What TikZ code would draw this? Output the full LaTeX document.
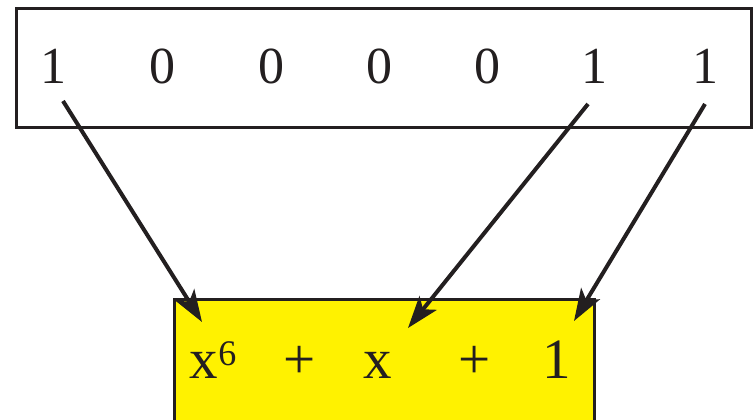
\documentclass[tikz,border=0pt]{standalone}
\usepackage{fontspec}
\setmainfont{Liberation Serif}
\usetikzlibrary{arrows.meta}
\definecolor{inkc}{HTML}{231F20}
\definecolor{yel}{HTML}{FFF200}
\begin{document}
\begin{tikzpicture}[x=1pt,y=-1pt,
  digit/.style={anchor=base,inner sep=0pt,font=\fontsize{52}{52}\selectfont,text=inkc},
  term/.style={anchor=base,inner sep=0pt,font=\fontsize{57}{57}\selectfont,text=inkc},
  boxline/.style={draw=inkc,line width=3pt},
  arr/.style={draw=inkc,line width=4pt,-{Stealth[length=32pt,width=22pt,inset=8pt]}}]
\useasboundingbox (0,0) rectangle (755,420);
\begin{scope}
\clip (0,0) rectangle (755,420);
\draw[boxline,fill=white] (16,9) rectangle (751,127);
\draw[boxline,fill=yel] (174,299) rectangle (594,440);
\end{scope}
\node[digit] (d1) at (53,84) {1};
\node[digit] (d2) at (162,84) {0};
\node[digit] (d3) at (271,84) {0};
\node[digit] (d4) at (379,84) {0};
\node[digit] (d5) at (487,84) {0};
\node[digit] (d6) at (594,84) {1};
\node[digit] (d7) at (705,84) {1};
\node[term] (t1) at (213,378) {x\raisebox{13pt}{\fontsize{36}{36}\selectfont 6}};
\node[term] (t2) at (300,378) {+};
\node[term] (t3) at (378,378) {x};
\node[term] (t4) at (475,378) {+};
\node[term] (t5) at (557,378) {1};
\coordinate (s1) at (63,101);
\coordinate (e1) at (202,322);
\coordinate (s6) at (588,104);
\coordinate (e6) at (408,328);
\coordinate (s7) at (705,104);
\coordinate (e7) at (574,321);
\draw[arr] (s1) -- (e1);
\draw[arr] (s6) -- (e6);
\draw[arr] (s7) -- (e7);
\end{tikzpicture}
\end{document}
